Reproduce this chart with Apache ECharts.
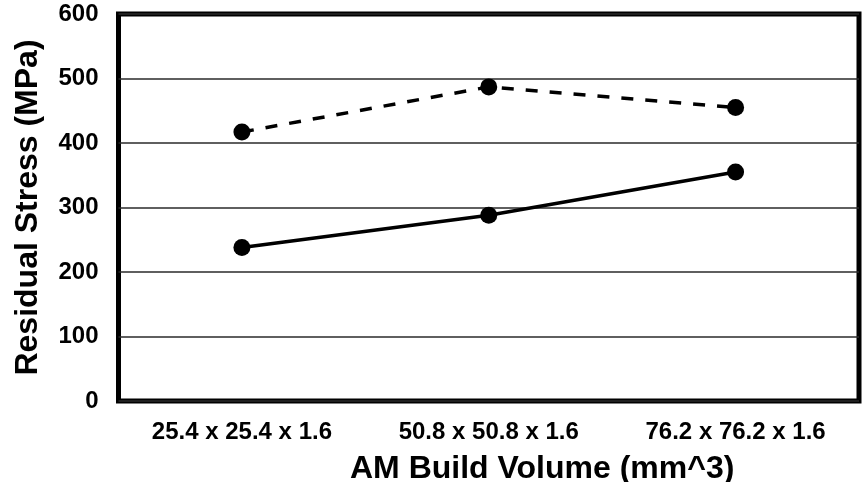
<!DOCTYPE html>
<html>
<head>
<meta charset="utf-8">
<script src="https://cdn.jsdelivr.net/npm/echarts@6/dist/echarts.min.js"></script>
<style>
  html, body { margin: 0; padding: 0; background: #fff; }
  #chart { width: 865px; height: 482px; }
</style>
</head>
<body>
<div id="chart"></div>
<script>
// Build volumes tested (x axis categories)
const buildVolumes = ['25.4 x 25.4 x 1.6', '50.8 x 50.8 x 1.6', '76.2 x 76.2 x 1.6'];
// Residual stress, MPa
const stressDashed = [417, 487, 455];
const stressSolid = [238, 288, 355];
// Value axis range
const yMin = 0;
const yMax = 600;
const yStep = 100;

const FONT = '"Liberation Sans", Arial, sans-serif';

const chart = echarts.init(document.getElementById('chart'), null, { renderer: 'canvas' });

chart.setOption({
  backgroundColor: '#ffffff',
  animation: false,
  grid: {
    left: 118.5,
    right: 6,
    top: 14,
    bottom: 81,
    show: true,
    borderColor: '#000',
    borderWidth: 5,
    backgroundColor: 'transparent'
  },
  xAxis: {
    type: 'category',
    data: buildVolumes,
    boundaryGap: true,
    axisLine: { show: false },
    axisTick: { show: false },
    axisLabel: {
      color: '#000',
      fontFamily: FONT,
      fontWeight: 'bold',
      fontSize: 24,
      margin: 19
    }
  },
  yAxis: {
    type: 'value',
    min: yMin,
    max: yMax,
    interval: yStep,
    name: 'Residual Stress (MPa)',
    nameLocation: 'middle',
    nameGap: 74,
    nameTextStyle: {
      color: '#000',
      fontFamily: FONT,
      fontWeight: 'bold',
      fontSize: 32
    },
    axisLine: { show: false },
    axisTick: { show: false },
    axisLabel: {
      color: '#000',
      fontFamily: FONT,
      fontWeight: 'bold',
      fontSize: 24,
      margin: 20
    },
    splitLine: {
      show: true,
      lineStyle: { color: '#2a2a2a', width: 1.5 }
    }
  },
  graphic: [{
    type: 'text',
    left: 350,
    top: 453,
    style: {
      text: 'AM Build Volume (mm^3)',
      fill: '#000',
      font: 'bold 32px ' + FONT
    }
  }],
  series: [
    {
      type: 'line',
      data: stressDashed,
      symbol: 'circle',
      symbolSize: 17,
      itemStyle: { color: '#000' },
      lineStyle: { color: '#000', width: 3.5, type: [12, 12] },
      z: 3
    },
    {
      type: 'line',
      data: stressSolid,
      symbol: 'circle',
      symbolSize: 17,
      itemStyle: { color: '#000' },
      lineStyle: { color: '#000', width: 3.5, type: 'solid' },
      z: 3
    }
  ]
});
</script>
</body>
</html>
